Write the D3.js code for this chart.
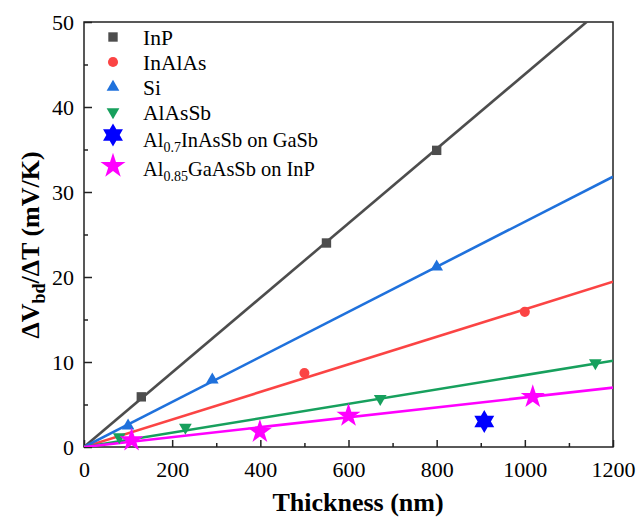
<!DOCTYPE html>
<html>
<head>
<meta charset="utf-8">
<script src="https://cdn.jsdelivr.net/npm/d3@7"></script>
<style>
  html, body { margin: 0; padding: 0; background: #fff; }
  svg { display: block; }
  svg text { font-family: 'Liberation Serif', 'Times New Roman', Times, 'DejaVu Serif', serif !important; }
</style>
</head>
<body>
<svg id="chart" width="638" height="521"></svg>
<script>
// ---- data ----
const seriesNames = ["InP", "InAlAs", "Si", "AlAsSb", "Al0.7InAsSb on GaSb", "Al0.85GaAsSb on InP"];
const inpX = [130, 550, 800];
const inpY = [5.9, 24.0, 34.9];
const inalasX = [500, 1000];
const inalasY = [8.7, 15.9];
const siX = [100, 291, 800];
const siY = [2.5, 7.9, 21.2];
const alassbX = [80, 230, 672, 1160];
const alassbY = [1.2, 2.3, 5.7, 9.9];
const alInAsSbX = [908];
const alInAsSbY = [3.0];
const alGaAsSbX = [108, 399, 600, 1018];
const alGaAsSbY = [0.8, 1.8, 3.7, 5.9];
// linear fits through origin (slope in mV/K per nm)
const fitSlopes = { "InP": 0.04386, "InAlAs": 0.0162, "Si": 0.0265, "AlAsSb": 0.00846, "Al0.85GaAsSb on InP": 0.00582 };
const xTicks = [0, 200, 400, 600, 800, 1000, 1200];
const xMinorTicks = [100, 300, 500, 700, 900, 1100];
const yTicks = [0, 10, 20, 30, 40, 50];
const yMinorTicks = [5, 15, 25, 35, 45];

const colors = {
  "InP": "#4d4d4d",
  "InAlAs": "#fb4444",
  "Si": "#1f71dc",
  "AlAsSb": "#17a05d",
  "Al0.7InAsSb on GaSb": "#0000ff",
  "Al0.85GaAsSb on InP": "#ff00ff"
};
const FONT = "'Liberation Serif', 'Times New Roman', Times, 'DejaVu Serif', serif";

// ---- layout ----
const svg = d3.select("#chart");
const L = 84, R = 613, T = 22, B = 447;
const x = d3.scaleLinear().domain([0, 1200]).range([L, R]);
const y = d3.scaleLinear().domain([0, 50]).range([B, T]);

svg.append("defs").append("clipPath").attr("id", "clip")
  .append("rect").attr("x", L).attr("y", T).attr("width", R - L).attr("height", B - T);

// frame
svg.append("rect").attr("x", L).attr("y", T).attr("width", R - L).attr("height", B - T)
  .attr("fill", "none").attr("stroke", "#222").attr("stroke-width", 1.5);

// axes
function styleAxis(g) {
  g.attr("font-family", FONT).attr("font-size", 22);
  g.select(".domain").remove();
  g.selectAll("line").attr("stroke", "#222").attr("stroke-width", 1.5);
  g.selectAll("text").attr("fill", "#000").attr("font-family", FONT).attr("font-size", 22);
}
svg.append("g").attr("transform", `translate(0,${B})`)
  .call(d3.axisBottom(x).tickValues(xTicks).tickFormat(d3.format("d")).tickSizeInner(-7).tickSizeOuter(0).tickPadding(14))
  .call(styleAxis);
svg.append("g").attr("transform", `translate(0,${B})`)
  .call(d3.axisBottom(x).tickValues(xMinorTicks).tickFormat("").tickSizeInner(-4).tickSizeOuter(0))
  .call(styleAxis);
svg.append("g").attr("transform", `translate(${L},0)`)
  .call(d3.axisLeft(y).tickValues(yTicks).tickFormat(d3.format("d")).tickSizeInner(-8).tickSizeOuter(0).tickPadding(10))
  .call(styleAxis);
svg.append("g").attr("transform", `translate(${L},0)`)
  .call(d3.axisLeft(y).tickValues(yMinorTicks).tickFormat("").tickSizeInner(-4).tickSizeOuter(0))
  .call(styleAxis);

// axis titles
svg.append("text").attr("x", 358).attr("y", 511).attr("text-anchor", "middle")
  .attr("font-family", FONT).attr("font-size", 26).attr("font-weight", "bold").text("Thickness (nm)");
const yt = svg.append("text").attr("transform", "translate(38.5,245) rotate(-90)")
  .attr("text-anchor", "middle").attr("font-family", FONT).attr("font-size", 26).attr("font-weight", "bold");
yt.append("tspan").text("ΔV");
yt.append("tspan").attr("dy", 6).attr("font-size", 18).text("bd");
yt.append("tspan").attr("dy", -6).text("/ΔT (mV/K)");

// fit lines
const lineGen = d3.line().x(d => x(d[0])).y(d => y(d[1]));
const linesG = svg.append("g").attr("clip-path", "url(#clip)");
Object.keys(fitSlopes).forEach(name => {
  const k = fitSlopes[name];
  linesG.append("path")
    .attr("d", lineGen([[0, 0], [1200, 1200 * k]]))
    .attr("fill", "none").attr("stroke", colors[name]).attr("stroke-width", 2.6);
});

// markers
function hexagram(r) {
  const pts = [];
  for (let i = 0; i < 12; i++) {
    const a = -Math.PI / 2 + i * Math.PI / 6;
    const rr = i % 2 === 0 ? r : r / Math.sqrt(3);
    pts.push([rr * Math.cos(a), rr * Math.sin(a)]);
  }
  return d3.line()(pts) + "Z";
}
const markerPath = {
  "InP": d3.symbol(d3.symbolSquare, 88)(),
  "InAlAs": d3.symbol(d3.symbolCircle, 80)(),
  "Si": d3.symbol(d3.symbolTriangle, 70)(),
  "AlAsSb": d3.symbol(d3.symbolTriangle, 70)(),
  "Al0.7InAsSb on GaSb": hexagram(11.5),
  "Al0.85GaAsSb on InP": d3.symbol(d3.symbolStar, 180)()
};
const markerRot = { "AlAsSb": 180 };

const seriesData = [
  ["InP", inpX, inpY],
  ["InAlAs", inalasX, inalasY],
  ["Si", siX, siY],
  ["AlAsSb", alassbX, alassbY],
  ["Al0.7InAsSb on GaSb", alInAsSbX, alInAsSbY],
  ["Al0.85GaAsSb on InP", alGaAsSbX, alGaAsSbY]
];
const ptsG = svg.append("g");
seriesData.forEach(([name, xs, ys]) => {
  ptsG.selectAll(null).data(xs.map((v, i) => [v, ys[i]])).enter()
    .append("path")
    .attr("d", markerPath[name])
    .attr("transform", d => `translate(${x(d[0])},${y(d[1])}) rotate(${markerRot[name] || 0})`)
    .attr("fill", colors[name]);
});

// legend
const legRows = [
  { name: "InP", my: 37, by: 45, fs: 21.5 },
  { name: "InAlAs", my: 62, by: 70, fs: 21.5 },
  { name: "Si", my: 87, by: 95, fs: 21.5 },
  { name: "AlAsSb", my: 112, by: 120, fs: 21.5 },
  { name: "Al0.7InAsSb on GaSb", my: 135, by: 147, fs: 20.4, sub: ["Al", "0.7", "InAsSb on GaSb"] },
  { name: "Al0.85GaAsSb on InP", my: 166, by: 176, fs: 20.4, sub: ["Al", "0.85", "GaAsSb on InP"] }
];
const leg = svg.append("g");
legRows.forEach(r => {
  const big = r.name === "Al0.85GaAsSb on InP" ? d3.symbol(d3.symbolStar, 195)() : markerPath[r.name];
  leg.append("path").attr("d", big)
    .attr("transform", `translate(113,${r.my}) rotate(${markerRot[r.name] || 0})`)
    .attr("fill", colors[r.name]);
  const t = leg.append("text").attr("x", 143).attr("y", r.by)
    .attr("font-family", FONT).attr("font-size", r.fs);
  if (r.sub) {
    t.append("tspan").text(r.sub[0]);
    t.append("tspan").attr("dy", 5).attr("font-size", 14).text(r.sub[1]);
    t.append("tspan").attr("dy", -5).text(r.sub[2]);
  } else {
    t.text(r.name);
  }
});
</script>
</body>
</html>
